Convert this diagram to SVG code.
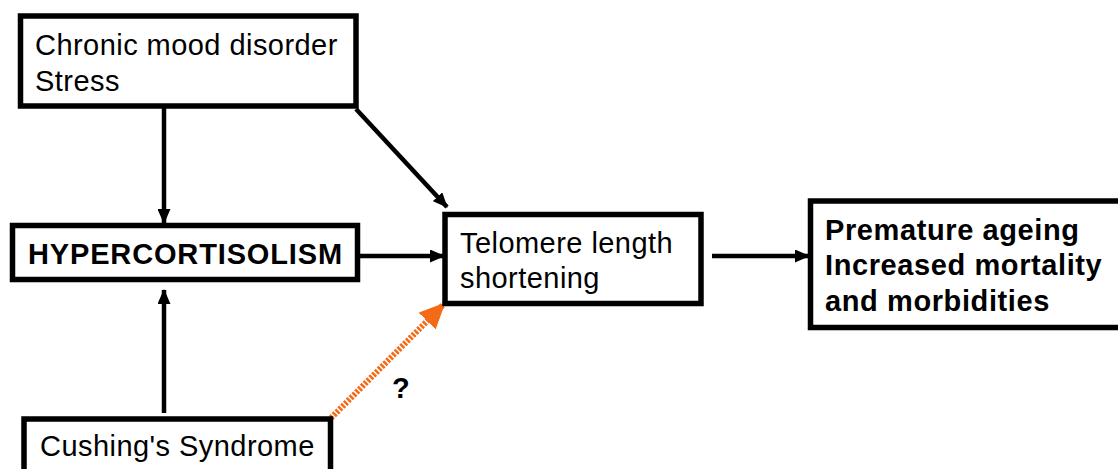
<svg xmlns="http://www.w3.org/2000/svg" width="1118" height="469" viewBox="0 0 1118 469">
<defs>
<style>
.box{fill:#fff;stroke:#000;stroke-width:5.5}
.t{font-family:"Liberation Sans",Arial,sans-serif;font-size:29px;fill:#000;letter-spacing:0.45px}
.b{font-weight:bold;letter-spacing:0.6px}
.h{letter-spacing:0.85px}
.c{stroke:#000;stroke-width:4.5;fill:none}
</style>
<marker id="ah" markerUnits="userSpaceOnUse" markerWidth="15" markerHeight="13" refX="14" refY="6.5" orient="auto">
<path d="M0,0 L15,6.5 L0,13 z" fill="#000"/>
</marker>
<marker id="oh" markerUnits="userSpaceOnUse" markerWidth="26" markerHeight="24" refX="24" refY="12" orient="auto">
<path d="M0,0 L26,12 L0,24 z" fill="#f46b17"/>
</marker>
</defs>
<g id="connectors">
<line class="c" x1="164" y1="108" x2="164" y2="223" marker-end="url(#ah)"/>
<line class="c" x1="356" y1="109" x2="447" y2="207" marker-end="url(#ah)"/>
<line class="c" x1="359" y1="256" x2="444" y2="256" marker-end="url(#ah)"/>
<line class="c" x1="164" y1="413" x2="164" y2="290" marker-end="url(#ah)"/>
<line class="c" x1="712" y1="256" x2="809" y2="256" marker-end="url(#ah)"/>
<line x1="331" y1="418" x2="444" y2="304" stroke="#f46b17" stroke-width="6" stroke-dasharray="2.5,1.5" marker-end="url(#oh)"/>
<text class="t b" x="392" y="398">?</text>
</g>
<g id="n-chronic">
<rect class="box" x="20.5" y="16" width="335.5" height="90"/>
<text class="t" x="35" y="55">Chronic mood disorder</text>
<text class="t" x="35" y="91">Stress</text>
</g>
<g id="n-hyper">
<rect class="box" x="12.5" y="225.5" width="345" height="54"/>
<text class="t b h" x="28" y="264">HYPERCORTISOLISM</text>
</g>
<g id="n-telomere">
<rect class="box" x="445" y="214.5" width="256" height="89"/>
<text class="t" x="460" y="253">Telomere length</text>
<text class="t" x="460" y="288">shortening</text>
</g>
<g id="n-premature">
<rect class="box" x="810.5" y="201" width="320" height="126.5"/>
<text class="t b" x="825" y="240">Premature ageing</text>
<text class="t b" x="825" y="275">Increased mortality</text>
<text class="t b" x="825" y="311">and morbidities</text>
</g>
<g id="n-cushing">
<rect class="box" x="24" y="419" width="306.5" height="70"/>
<text class="t" x="40" y="456">Cushing's Syndrome</text>
</g>
</svg>
